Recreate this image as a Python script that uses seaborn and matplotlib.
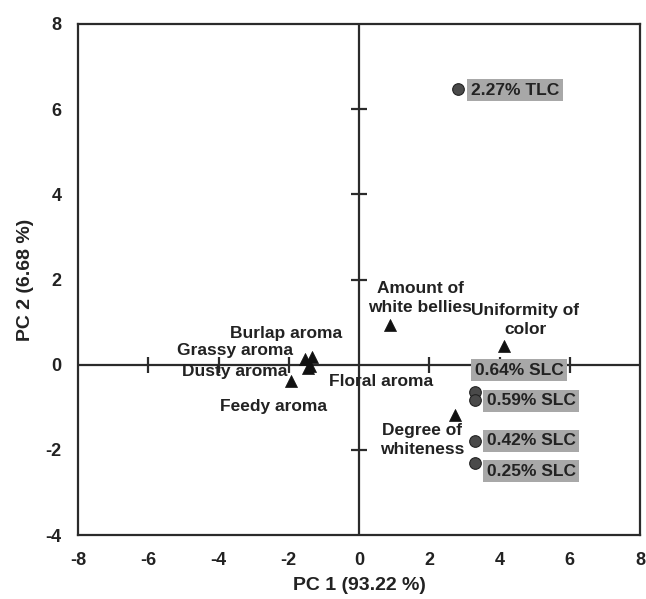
import matplotlib
matplotlib.use("Agg")
import matplotlib.pyplot as plt
import numpy as np
import pandas as pd
import seaborn as sns

# sensory attributes (loadings)
traits = ["Burlap aroma", "Grassy aroma", "Dusty aroma", "Floral aroma", "Feedy aroma",
          "Amount of\nwhite bellies", "Uniformity of\ncolor", "Degree of\nwhiteness"]
trait_pc1 = [-1.34, -1.54, -1.45, -1.40, -1.94, 0.88, 4.13, 2.73]
trait_pc2 = [0.18, 0.13, -0.08, -0.02, -0.38, 0.93, 0.44, -1.18]

# treatments (scores)
treatments = ["2.27% TLC", "0.64% SLC", "0.59% SLC", "0.42% SLC", "0.25% SLC"]
treat_pc1 = [2.82, 3.30, 3.30, 3.30, 3.30]
treat_pc2 = [6.47, -0.64, -0.83, -1.79, -2.31]

axis_ticks = [-8, -6, -4, -2, 0, 2, 4, 6, 8]
y_ticks = [-4, -2, 0, 2, 4, 6, 8]

# label placement (data coords)
trait_lab_xy = [(-2.08, 0.74), (-3.53, 0.34), (-3.53, -0.17), (0.62, -0.39), (-2.42, -0.99),
                (1.74, 1.56), (4.73, 1.05), (1.79, -1.77)]
treat_lab_xy = [(4.44, 6.45), (4.56, -0.13), (4.90, -0.85), (4.90, -1.79), (4.90, -2.50)]

traits_df = pd.DataFrame({"pc1": trait_pc1, "pc2": trait_pc2, "name": traits})
treat_df = pd.DataFrame({"pc1": treat_pc1, "pc2": treat_pc2, "name": treatments})

sns.set_style("white")
plt.rcParams["font.family"] = ["Liberation Sans", "DejaVu Sans"]
plt.rcParams["font.weight"] = "bold"
plt.rcParams["axes.unicode_minus"] = False

fig = plt.figure(figsize=(6.46, 5.99), dpi=100)
ax = fig.add_axes([78 / 646, 1 - 535 / 599, 562 / 646, 511 / 599])

txt = "#222222"
line_c = "#2b2b2b"

# crosshair through origin with crossing ticks
ax.axhline(0, color=line_c, lw=1.6, zorder=1)
ax.axvline(0, color=line_c, lw=1.6, zorder=1)
xt = [t for t in axis_ticks if t not in (-8, 0, 8)]
yt = [t for t in y_ticks if t not in (-4, 0, 8)]
ax.plot(xt, np.zeros(len(xt)), ls="none", marker="|", ms=12, mew=1.6, color=line_c, zorder=1)
ax.plot(np.zeros(len(yt)), yt, ls="none", marker="_", ms=12, mew=1.6, color=line_c, zorder=1)

sns.scatterplot(data=traits_df, x="pc1", y="pc2", marker="^", s=75, color="#111111",
                edgecolor="#111111", linewidth=0.5, ax=ax, zorder=3)
sns.scatterplot(data=treat_df, x="pc1", y="pc2", marker="o", s=70, color="#4a4a4a",
                edgecolor="#222222", linewidth=0.8, ax=ax, zorder=3)

for name, (lx, ly) in zip(traits, trait_lab_xy):
    ax.text(lx, ly, name, ha="center", va="center", fontsize=12.5, fontweight="bold",
            color=txt, linespacing=1.35, zorder=4)

for name, (lx, ly) in zip(treatments, treat_lab_xy):
    ax.text(lx, ly, name, ha="center", va="center", fontsize=12.5, fontweight="bold",
            color=txt, zorder=4,
            bbox=dict(boxstyle="square,pad=0.2", facecolor="#a8a8a8", edgecolor="none"))

ax.set_xlim(-8, 8)
ax.set_ylim(-4, 8)
ax.set_xticks(axis_ticks)
ax.set_yticks(y_ticks)
ax.tick_params(length=0, pad=12, labelsize=13, labelcolor=txt)
for lab in ax.get_xticklabels() + ax.get_yticklabels():
    lab.set_fontweight("bold")

for sp in ax.spines.values():
    sp.set_linewidth(1.6)
    sp.set_color(line_c)
    sp.set_visible(True)

ax.set_xlabel("PC 1 (93.22 %)", fontsize=14, fontweight="bold", color=txt, labelpad=6)
ax.set_ylabel("PC 2 (6.68 %)", fontsize=14, fontweight="bold", color=txt, labelpad=8)

fig.savefig("out.png", dpi=100)
